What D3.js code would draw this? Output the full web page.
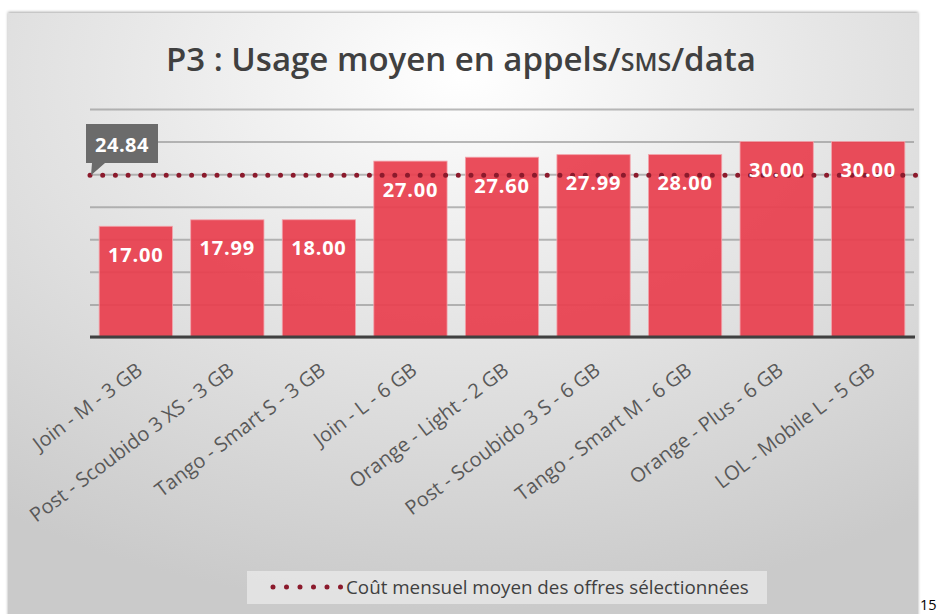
<!DOCTYPE html>
<html>
<head>
<meta charset="utf-8">
<script src="https://cdn.jsdelivr.net/npm/d3@7"></script>
<style>
  body { margin: 0; background: #fff; }
  svg { display: block; }
</style>
</head>
<body>
<div id="chart-placeholder"></div>
<script>
const categories = ["Join - M - 3 GB", "Post - Scoubido 3 XS - 3 GB", "Tango - Smart S - 3 GB", "Join - L - 6 GB",
	"Orange -  Light - 2 GB", "Post - Scoubido 3 S - 6 GB", "Tango - Smart M - 6 GB", "Orange - Plus - 6 GB", "LOL - Mobile L - 5 GB"];
const costs = [17.00, 17.99, 18.00, 27.00, 27.60, 27.99, 28.00, 30.00, 30.00];
const averageCost = 24.84;
const yTicks = [0, 5, 10, 15, 20, 25, 30, 35];
const legendLabel = "Coût mensuel moyen des offres sélectionnées";
const pageNumber = "15";

let width = 938, height = 614;
let fontFamily = "'Open Sans', 'DejaVu Sans', sans-serif";

let svg = d3.select("#chart-placeholder")
	.append("svg")
	.attr("width", width)
	.attr("height", height);

let defs = svg.append("defs");
let bg = defs.append("radialGradient")
	.attr("id", "bg-grad")
	.attr("cx", "50%").attr("cy", "10%")
	.attr("r", "88%");
bg.append("stop").attr("offset", "0%").attr("stop-color", "#ffffff");
bg.append("stop").attr("offset", "45%").attr("stop-color", "#e6e6e6");
bg.append("stop").attr("offset", "100%").attr("stop-color", "#cacaca");

let shadow = defs.append("filter").attr("id", "shadow")
	.attr("x", "-5%").attr("y", "-5%").attr("width", "110%").attr("height", "110%");
shadow.append("feDropShadow").attr("dx", 0).attr("dy", -1).attr("stdDeviation", 1.5)
	.attr("flood-color", "#000").attr("flood-opacity", 0.35);

// chart frame
svg.append("rect")
	.attr("x", 8).attr("y", 13)
	.attr("width", 910).attr("height", 610)
	.attr("fill", "url(#bg-grad)")
	.attr("filter", "url(#shadow)");

// title
let title = svg.append("text")
	.attr("x", 461)
	.attr("y", 71)
	.attr("text-anchor", "middle")
	.style("font-family", fontFamily)
	.style("font-size", "33px")
	.style("font-weight", 600)
	.style("fill", "#404040");
title.append("tspan").text("P3 : Usage moyen en appels/");
title.append("tspan").style("font-size", "25px").text("SMS");
title.append("tspan").text("/data");

// scales
let xScale = d3.scaleBand()
	.domain(categories)
	.range([90, 914])
	.paddingInner(0.2)
	.paddingOuter(0.1);

let yScale = d3.scaleLinear()
	.domain([0, 35])
	.range([337, 109]);

// gridlines
let yAxis = d3.axisLeft(yScale)
	.tickValues(yTicks)
	.tickSize(-(914 - 90))
	.tickFormat("");

let grid = svg.append("g")
	.attr("class", "grid")
	.attr("transform", "translate(90, 0)")
	.call(yAxis);
grid.select(".domain").remove();
grid.selectAll("line")
	.attr("stroke", "#8c8c8c")
	.attr("stroke-opacity", 0.6)
	.attr("stroke-width", 2);

// bars
svg.selectAll(".bar")
	.data(costs)
	.enter()
	.append("rect")
	.attr("class", "bar")
	.attr("x", (d, i) => xScale(categories[i]))
	.attr("y", d => yScale(d))
	.attr("width", xScale.bandwidth())
	.attr("height", d => yScale(0) - yScale(d))
	.attr("fill", "#e8404f")
	.attr("fill-opacity", 0.93)
	.attr("stroke", "#f3a3ab")
	.attr("stroke-width", 0.8);

// x axis
let xAxis = d3.axisBottom(xScale).tickSize(0);
let xg = svg.append("g")
	.attr("class", "xaxis")
	.attr("transform", `translate(0, ${yScale(0)})`)
	.call(xAxis);
xg.select(".domain")
	.attr("stroke", "#404040")
	.attr("stroke-width", 3)
	.attr("d", `M0,0H${914 - 90 + 1}`)
	.attr("transform", "translate(90, 0)");
xg.selectAll("text")
	.attr("x", 0).attr("y", 0).attr("dy", 0)
	.attr("text-anchor", "end")
	.attr("transform", "translate(8, 36) rotate(-37)")
	.style("font-family", fontFamily)
	.style("font-size", "20px")
	.style("fill", "#595959");

// average line (dotted)
svg.append("line")
	.attr("x1", 90).attr("x2", 916)
	.attr("y1", yScale(averageCost)).attr("y2", yScale(averageCost))
	.attr("stroke", "#8b1a2c")
	.attr("stroke-width", 5)
	.attr("stroke-linecap", "round")
	.attr("stroke-dasharray", "0 12.7");

// value labels
svg.selectAll(".value-label")
	.data(costs)
	.enter()
	.append("text")
	.attr("class", "value-label")
	.attr("x", (d, i) => xScale(categories[i]) + xScale.bandwidth() / 2)
	.attr("y", d => yScale(d) + 35.5)
	.attr("text-anchor", "middle")
	.style("font-family", fontFamily)
	.style("font-size", "20px")
	.style("font-weight", 700)
	.style("letter-spacing", "0.8px")
	.style("fill", "#ffffff")
	.text(d => d.toFixed(2));

// callout for average
let tipX = xScale.range()[0], tipY = yScale(averageCost);
let box = {x: 86, y: 124, w: 72, h: 39};
svg.append("path")
	.attr("d", `M${box.x},${box.y}H${box.x + box.w}V${box.y + box.h}H${box.x + 19}L${tipX + 1},${tipY}L${box.x + 6},${box.y + box.h}H${box.x}Z`)
	.attr("fill", "#6b6b6b");
svg.append("text")
	.attr("x", box.x + box.w / 2)
	.attr("y", box.y + 28)
	.attr("text-anchor", "middle")
	.style("font-family", fontFamily)
	.style("font-size", "20px")
	.style("font-weight", 700)
	.style("letter-spacing", "0.5px")
	.style("fill", "#ffffff")
	.text(averageCost.toFixed(2));

// legend
let legend = svg.append("g").attr("class", "legend");
legend.append("rect")
	.attr("x", 247).attr("y", 571)
	.attr("width", 520).attr("height", 33)
	.attr("fill", "#e6e6e6")
	.attr("fill-opacity", 0.85);
legend.append("line")
	.attr("x1", 273).attr("x2", 341)
	.attr("y1", 587).attr("y2", 587)
	.attr("stroke", "#8b1a2c")
	.attr("stroke-width", 5)
	.attr("stroke-linecap", "round")
	.attr("stroke-dasharray", "0 13.5");
legend.append("text")
	.attr("x", 346)
	.attr("y", 594)
	.style("font-family", fontFamily)
	.style("font-size", "18.8px")
	.style("fill", "#404040")
	.text(legendLabel);

// page number outside the chart
svg.append("text")
	.attr("x", 920)
	.attr("y", 610)
	.style("font-family", fontFamily)
	.style("font-size", "14.5px")
	.style("fill", "#000")
	.text(pageNumber);
</script>
</body>
</html>
